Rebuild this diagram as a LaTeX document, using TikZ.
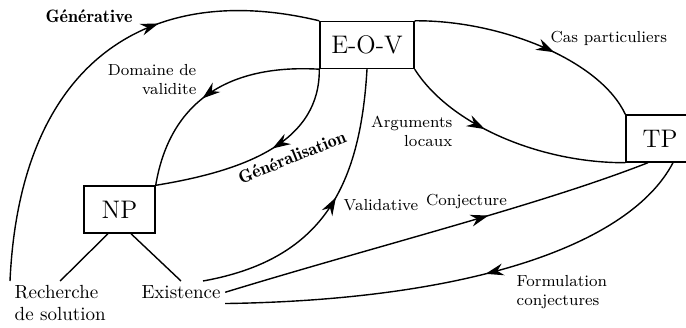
\documentclass[tikz,border=0pt]{standalone}
\usepackage{tikz}
\usetikzlibrary{arrows.meta,decorations.markings}

\tikzset{
  box/.style={draw, inner sep=0pt, minimum height=23.5pt, font=\fontsize{12.7}{15}\selectfont},
  lbl/.style={inner sep=2pt, font=\fontsize{9.5}{11}\selectfont},
  elbl/.style={inner sep=2pt, font=\footnotesize},
  blbl/.style={inner sep=2pt, font=\fontsize{9}{10}\fontseries{b}\selectfont},
  midarrow/.style={postaction={decorate}, decoration={markings,
    mark=at position #1 with {\arrow{Stealth[length=9pt,width=6pt,inset=3pt]}}}},
  midarrow/.default=0.5
}

\begin{document}
\begin{tikzpicture}[x=0.5pt,y=0.5pt,yscale=-1,xscale=1,line width=0.7pt]
\useasboundingbox (0,0) rectangle (686,327);

%Shape: Rectangle
\node[box, minimum width=47pt] (eov) at (367,45) {E-O-V};
%Shape: Rectangle
\node[box, minimum width=35.5pt] (np) at (119.5,209.5) {NP};
%Shape: Rectangle
\node[box, minimum width=34pt] (tp) at (660,138.5) {TP};

% Text Node
\node[lbl, align=left, anchor=north west] (rech) at (10,281) {Recherche\\de solution};
% Text Node
\node[lbl, anchor=north] (exist) at (181,281) {Existence};

%Straight Lines
\draw ([xshift=-5.75pt]np.south) -- (rech.north);
\draw ([xshift=5.75pt]np.south) -- (exist.north);

%Curve Lines
\draw[midarrow=0.66] (rech.north west) .. controls (20,60) and (150,-20) .. (eov.north west);
\draw[midarrow=0.55] (eov.south west) .. controls (230,64) and (170,100) .. (np.north east);
\draw[midarrow=0.44] (eov.south west) .. controls (320,140) and (250,170) .. (np.north east);
\draw[midarrow=0.6] (eov.north east) .. controls (500,20) and (600,60) .. (tp.north west);
\draw[midarrow=0.39] (eov.south east) .. controls (450,125) and (540,163) .. (tp.south west);
\draw[midarrow=0.55] ([xshift=11pt]exist.north) .. controls (320,260) and (360,190) .. (eov.south);
\draw[midarrow=0.62] (exist.east) .. controls (380,245) and (540,205) .. ([xshift=-6pt]tp.south);
\draw[midarrow=0.46] ([xshift=6.5pt]tp.south) .. controls (630,245) and (470,300) .. (exist.south east);

% Text Node
\node[blbl] (gen) at (89,16) {Générative};
% Text Node
\node[blbl, rotate=22] (genl) at (292,157) {Généralisation};
% Text Node
\node[elbl, align=right, anchor=east] (dom) at (201,79.5) {Domaine de\\validite};
% Text Node
\node[elbl, anchor=west] (cas) at (546,38) {Cas particuliers};
% Text Node
\node[elbl, align=right, anchor=east] (arg) at (457,131.5) {Arguments\\locaux};
% Text Node
\node[elbl, anchor=west] (val) at (339,205) {Validative};
% Text Node
\node[elbl] (conj) at (466.5,201) {Conjecture};
% Text Node
\node[elbl, align=left, anchor=west] (form) at (512,292) {Formulation\\conjectures};

\end{tikzpicture}
\end{document}
